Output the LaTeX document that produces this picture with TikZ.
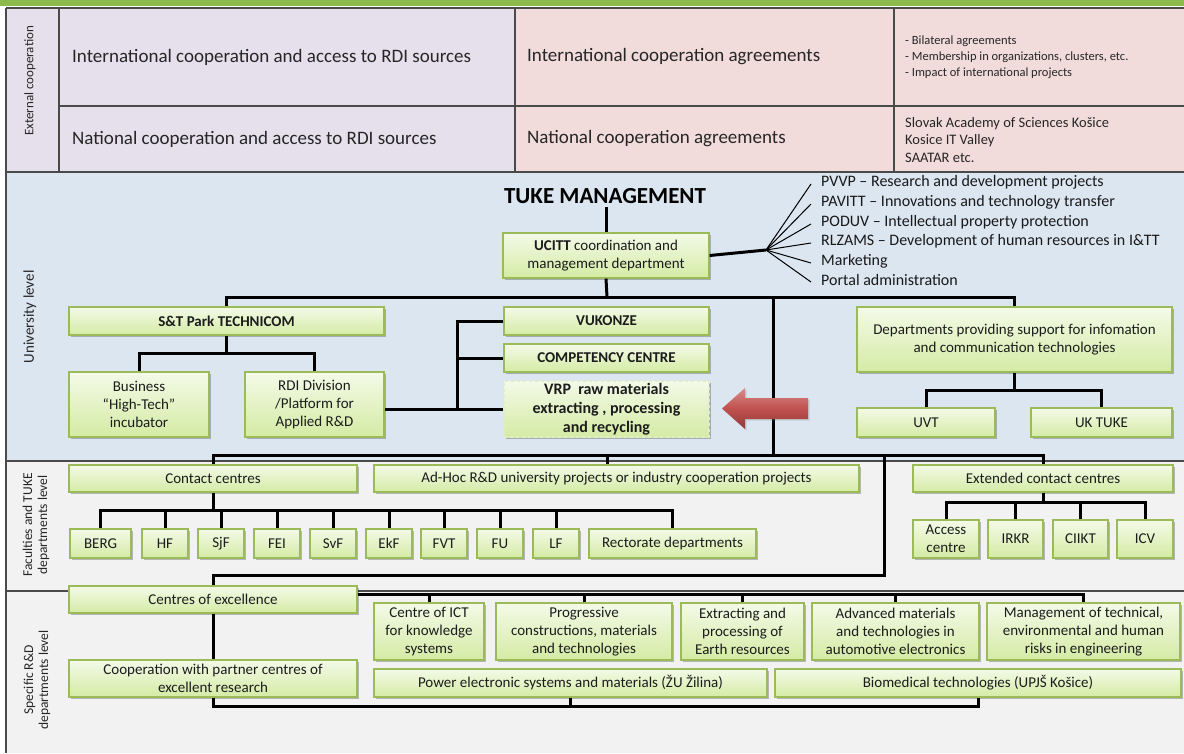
\documentclass[tikz,border=0pt]{standalone}
\usepackage{fontspec}
\setmainfont{Carlito}
\usetikzlibrary{positioning,shadows}

\definecolor{barGreen}{HTML}{8CBA4C}
\definecolor{extLav}{HTML}{E5E0EC}
\definecolor{extPink}{HTML}{F2DCDB}
\definecolor{uniBlue}{HTML}{DCE6F1}
\definecolor{lowGray}{HTML}{F2F2F2}
\definecolor{boxLine}{HTML}{9BBB59}
\definecolor{boxTop}{HTML}{F4FAE8}
\definecolor{boxBot}{HTML}{D4EBA4}
\definecolor{boxText}{HTML}{1C1C1C}
\definecolor{arrowRed}{HTML}{C0504D}
\definecolor{ruleGray}{HTML}{4A4A4A}

\tikzset{
    unit/.style={draw=boxLine, line width=1.2pt, top color=boxTop, bottom color=boxBot,
        drop shadow={shadow xshift=1.5pt, shadow yshift=-1.5pt, opacity=0.25, fill=black},
        align=center, inner sep=0pt, text=boxText, font=\fontsize{15}{18}\selectfont},
    dims/.style 2 args={minimum width=#1pt, minimum height=#2pt},
    link/.style={line width=3pt, black},
    rule/.style={line width=1.4pt, ruleGray},
    sectlabel/.style={rotate=90, align=center, text=black!85, font=\fontsize{13.5}{15}\selectfont},
    tabletext/.style={anchor=west, inner sep=0pt, text=black!85, font=\fontsize{19}{22}\selectfont},
    notetext/.style={anchor=west, inner sep=0pt, align=left, text=black!85},
    fanitem/.style={anchor=west, inner sep=0pt, text=black!90, font=\fontsize{16}{19}\selectfont},
}

\begin{document}
\begin{tikzpicture}[x=1pt, y=-1pt]
    \useasboundingbox (0,0) rectangle (1184,753);

    % bands
    \fill[barGreen] (0,0) rectangle (1184,6);
    \fill[extLav] (6,8) rectangle (515,172);
    \fill[extPink] (515,8) rectangle (1184,172);
    \fill[uniBlue] (6,172) rectangle (1184,461);
    \fill[lowGray] (6,461) rectangle (1184,753);

    % table rules
    \draw[rule] (6,8) -- (1184,8);
    \draw[rule] (6,172) -- (1184,172);
    \draw[rule] (59,106) -- (1184,106);
    \foreach \x in {59,515,894}
        \draw[rule] (\x,8) -- (\x,172);
    \draw[rule] (6,461) -- (1184,461);
    \draw[rule] (6,591) -- (1184,591);
    \draw[rule, line width=2.6pt] (6,8) -- (6,753);

    % section labels
    \node[sectlabel, font=\fontsize{13}{15}\selectfont] (lblExt) at (30,81) {External cooperation};
    \node[sectlabel, font=\fontsize{15}{17}\selectfont] (lblUni) at (30,317) {University level};
    \node[sectlabel] (lblFac) at (36,525) {Faculties and TUKE\\departments level};
    \node[sectlabel] (lblSpec) at (37,680) {Specific R\&D\\departments level};

    % external cooperation
    \node[tabletext] (intAccess) at (72,57) {International cooperation and access to RDI sources};
    \node[tabletext] (natAccess) at (72,139) {National cooperation and access to RDI sources};
    \node[tabletext] (intAgree) at (527,57) {International cooperation agreements};
    \node[tabletext] (natAgree) at (527,139) {National cooperation agreements};
    \node[notetext, font=\fontsize{12.5}{16}\selectfont] (intNotes) at (905,57)
        {- Bilateral agreements\\- Membership in organizations, clusters, etc.\\- Impact of international projects};
    \node[notetext, font=\fontsize{14.5}{17.5}\selectfont] (natNotes) at (905,140)
        {Slovak Academy of Sciences Košice\\Kosice IT Valley\\SAATAR etc.};

    % university level
    \node[font=\fontsize{23}{26}\selectfont\bfseries, text=black] (mgmt) at (605,196) {TUKE MANAGEMENT};
    \node[unit, dims={206}{45}] (ucitt) at (606,255.5) {\textbf{UCITT} coordination and\\management department};

    \coordinate (fan) at (766,250);
    \foreach [count=\i] \y/\t in {182/{PVVP – Research and development projects},
            202/{PAVITT – Innovations and technology transfer},
            222/{PODUV – Intellectual property protection},
            241/{RLZAMS – Development of human resources in I\&TT},
            261/{Marketing}, 280/{Portal administration}}
        \node[fanitem] (item\i) at (821,\y) {\t};
    \foreach \i in {1,...,6}
        \draw[line width=1pt] (fan) -- ([xshift=-10pt, yshift=-2pt]item\i.west);
    \draw[link] (ucitt.east) -- (fan);
    \draw[link] (ucitt.north) -- (ucitt.north |- mgmt.south);

    \node[unit, dims={315}{28}, font=\fontsize{15}{18}\selectfont\bfseries] (stpark) at (226.5,321) {S\&T Park TECHNICOM};
    \node[unit, dims={140}{65}] (business) at (139,404.5) {Business\\“High-Tech”\\incubator};
    \node[unit, dims={139}{65}] (rdi) at (314.5,404.5) {RDI Division\\/Platform for\\Applied R\&D};
    \node[unit, dims={205}{28}, font=\fontsize{15}{18}\selectfont\bfseries] (vukonze) at (606.5,321) {VUKONZE};
    \node[unit, dims={205}{28}, font=\fontsize{15}{18}\selectfont\bfseries] (competency) at (606.5,358) {COMPETENCY CENTRE};
    \node[unit, dims={205}{56}, draw=white!70!boxLine, dashed, font=\fontsize{16}{19}\selectfont\bfseries] (vrp) at (606.5,409)
        {VRP\ \ raw materials\\extracting , processing\\and recycling};
    \node[unit, dims={315}{65}] (deps) at (1014.5,339.5) {Departments providing support for infomation\\and communication technologies};
    \node[unit, dims={138}{29}] (uvt) at (926,422.5) {UVT};
    \node[unit, dims={141}{29}] (uktuke) at (1101.5,422.5) {UK TUKE};

    \coordinate (busTop) at (607,297);
    \coordinate (busMid) at (773,455);
    \draw[link] (ucitt.south) -- (busTop);
    \draw[link] (stpark.north) |- (busTop) -| (deps.north);
    \draw[link] (busMid |- busTop) -- (busMid);
    \draw[link] (stpark.south) -- ++(0,18) coordinate (stFork);
    \draw[link] (business.north) |- (stFork) -| (rdi.north);
    \draw[link] (vrp.west) -- (vrp.west -| rdi.east);
    \coordinate (branch) at (457,409);
    \draw[link] (vukonze.west) -| (branch);
    \draw[link] (competency.west) -- (competency.west -| branch);
    \draw[link] (deps.south) -- ++(0,18) coordinate (depFork);
    \draw[link] (uvt.north) |- (depFork) -| (uktuke.north);

    % red arrow
    \shade[top color=arrowRed!65!white, bottom color=arrowRed!75!black, middle color=arrowRed,
        drop shadow={shadow xshift=1.5pt, shadow yshift=-1.5pt, opacity=0.25}]
        (808,398) -- (745,398) -- (745,388) -- (722,408.5) -- (745,429) -- (745,419) -- (808,419) -- cycle;

    % faculties and departments level
    \node[unit, dims={288}{27}] (contact) at (213,478.5) {Contact centres};
    \node[unit, dims={485}{27}] (adhoc) at (616.5,478.5) {Ad-Hoc R\&D university projects or industry cooperation projects};
    \node[unit, dims={260}{27}] (extended) at (1043,478.5) {Extended contact centres};

    \foreach [count=\i] \x/\w/\t in {100.5/61/BERG, 165/46/HF, 221/46/SjF, 277/46/FEI, 333/46/SvF,
            389/46/EkF, 444/46/FVT, 500/46/FU, 556/46/LF, 672.5/167/{Rectorate departments}}
        \node[unit, dims={\w}{29}] (fac\i) at (\x,543.5) {\t};

    \foreach [count=\i] \x/\w/\t in {946/66/{Access\\centre}, 1015.5/55/IRKR, 1080.5/55/CIIKT, 1145/56/ICV}
        \node[unit, dims={\w}{38}] (ext\i) at (\x,539) {\t};

    \draw[link] (contact.north) |- (busMid) -| (extended.north);
    \draw[link] (busTop |- busMid) -- (busTop |- adhoc.north);
    \draw[link] (contact.south) -- ++(0,18) coordinate (facFork);
    \draw[link] (fac1.north) |- (facFork) -| (fac10.north);
    \foreach \i in {2,...,9}
        \draw[link] (fac\i.north) -- (fac\i.north |- facFork);
    \draw[link] (extended.south) -- ++(0,10) coordinate (extFork);
    \draw[link] (ext1.north) |- (extFork) -| (ext4.north);
    \foreach \i in {2,3}
        \draw[link] (ext\i.north) -- (ext\i.north |- extFork);

    % specific R&D departments level
    \node[unit, dims={288}{27}] (excellence) at (213,599.5) {Centres of excellence};
    \node[unit, dims={288}{37}] (coop) at (213,678.5) {Cooperation with partner centres of\\excellent research};
    \node[unit, dims={110}{57}] (ict) at (429,631.5) {Centre of ICT\\for knowledge\\systems};
    \node[unit, dims={176}{57}] (prog) at (584,631.5) {Progressive\\constructions, materials\\and technologies};
    \node[unit, dims={123}{57}] (extr) at (742.5,631.5) {Extracting and\\processing of\\Earth resources};
    \node[unit, dims={167}{57}] (adv) at (895.5,631.5) {Advanced materials\\and technologies in\\automotive electronics};
    \node[unit, dims={193}{57}] (risk) at (1083.5,631.5) {Management of technical,\\environmental and human\\risks in engineering};
    \node[unit, dims={393}{28}] (power) at (570.5,683) {Power electronic systems and materials (ŽU Žilina)};
    \node[unit, dims={406}{28}] (bio) at (978,683) {Biomedical technologies (UPJŠ Košice)};

    \draw[link] (busMid -| 884,0) -- ++(0,120) -| (excellence.north);
    \draw[link] (excellence.south) -- (coop.north);
    \draw[link] ([yshift=5.5pt]excellence.east) -| (risk.north);
    \foreach \n in {ict, prog, extr, adv}
        \draw[link] (\n.north) -- ++(0,-9);
    \draw[link] (coop.south) -- ++(0,9) -| (bio.south);
    \draw[link] (power.south) -- ++(0,9);
\end{tikzpicture}
\end{document}
